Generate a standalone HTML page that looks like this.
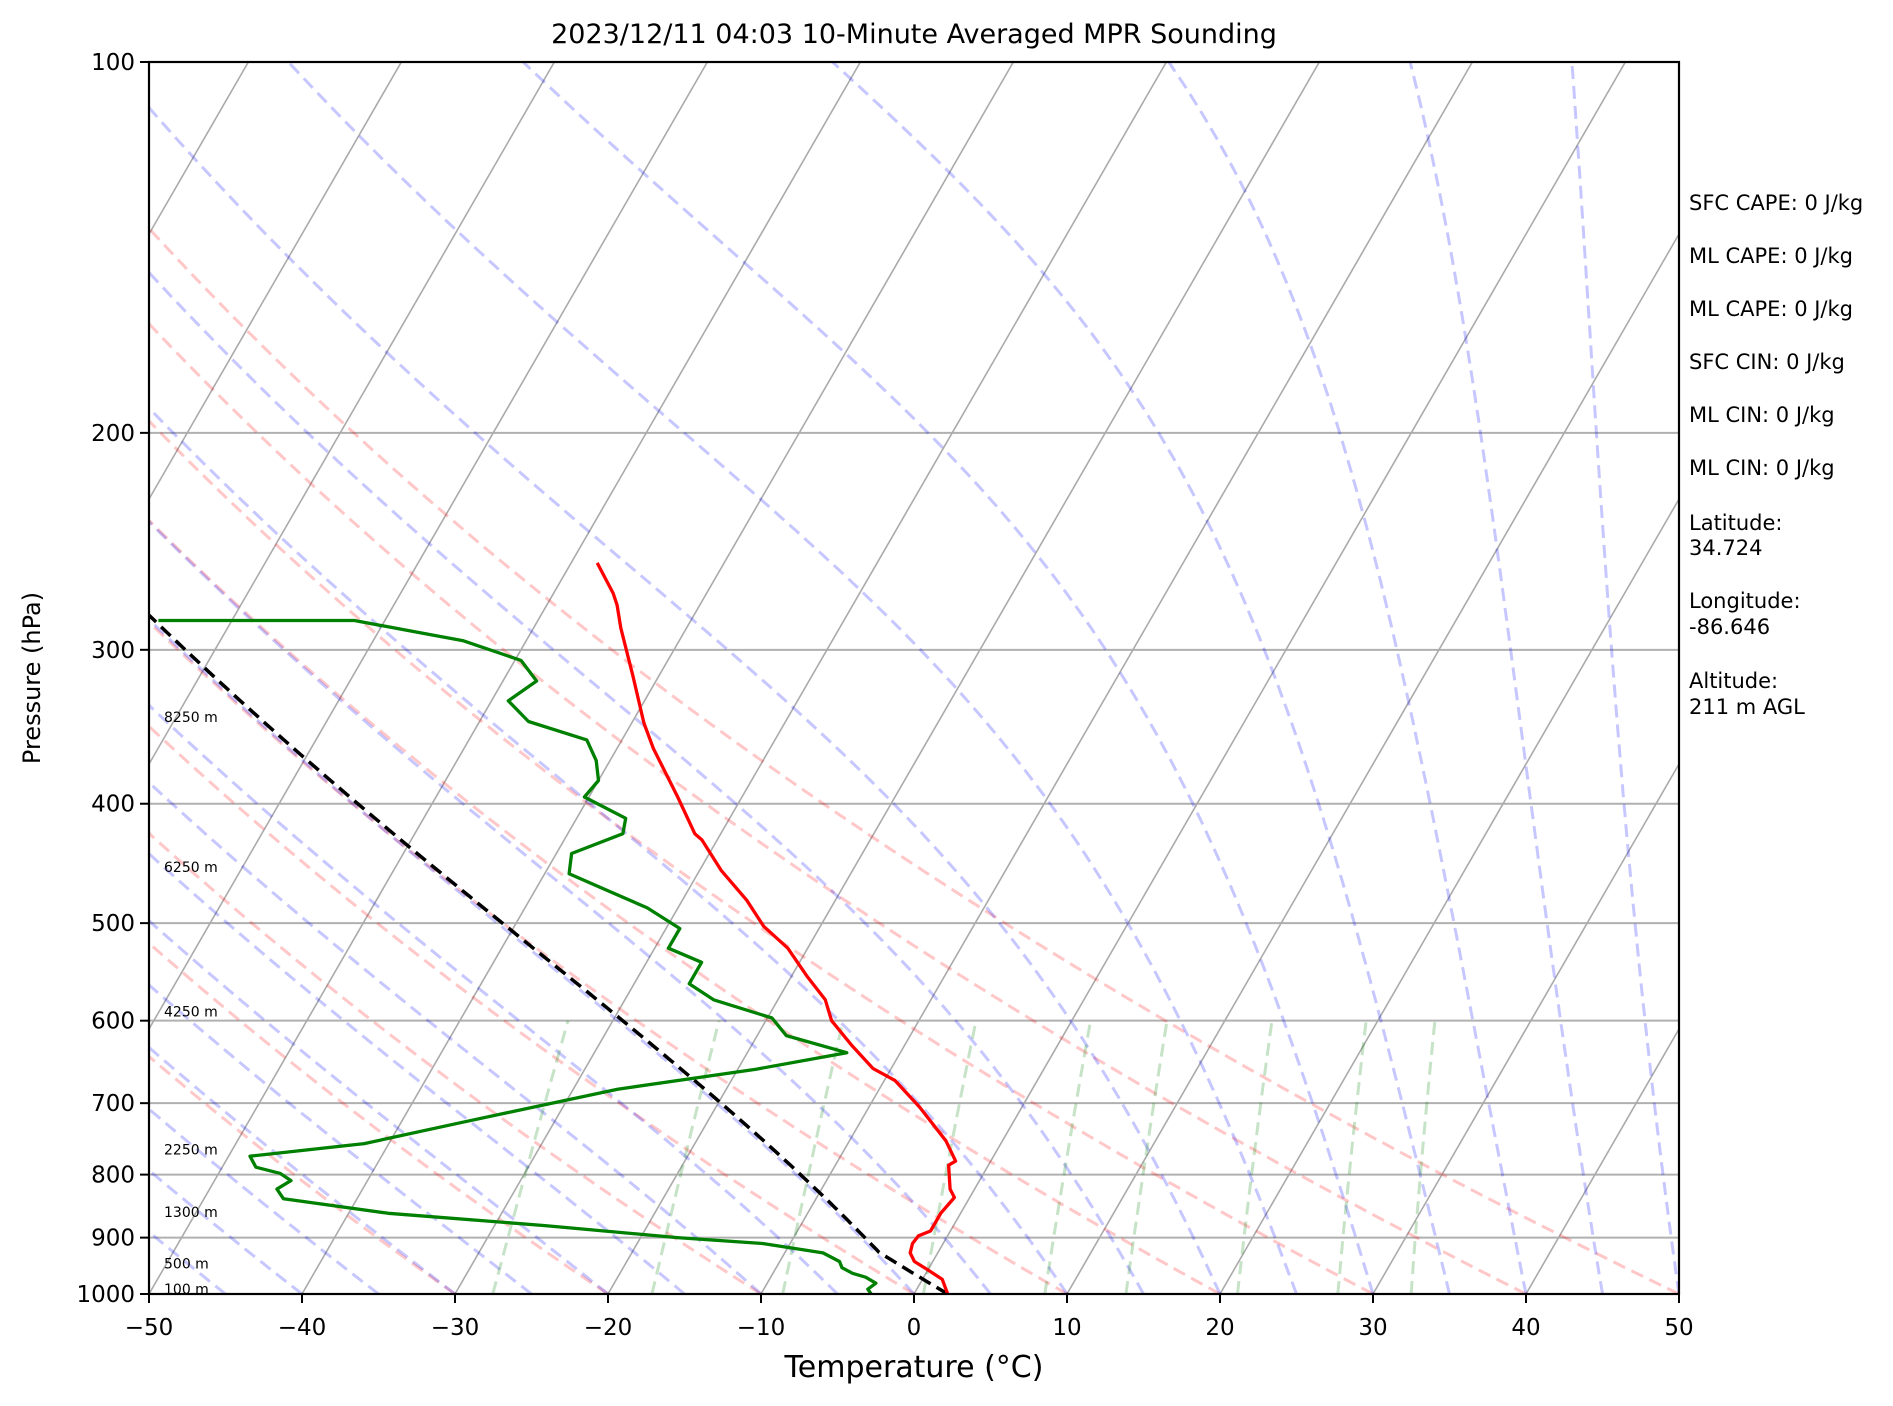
<!DOCTYPE html>
<html><head><meta charset="utf-8">
<style>
html,body{margin:0;padding:0;background:#fff;}
svg{display:block;font-family:"DejaVu Sans","Liberation Sans",sans-serif;}
</style></head>
<body>
<svg id="chart" xmlns="http://www.w3.org/2000/svg" width="1893" height="1406" viewBox="0 0 1893 1406">
<defs><clipPath id="plotclip"><rect x="149" y="62" width="1530" height="1232"/></clipPath></defs>
<rect x="0" y="0" width="1893" height="1406" fill="#fff"/>
<text x="914" y="43" font-size="27" text-anchor="middle">2023/12/11 04:03 10-Minute Averaged MPR Sounding</text>
<g id="plot" clip-path="url(#plotclip)"></g>
<g id="axes"></g>
<text x="914" y="1377" font-size="30" text-anchor="middle">Temperature (°C)</text>
<text x="0" y="0" font-size="24" text-anchor="middle" transform="translate(40,678) rotate(-90)">Pressure (hPa)</text>
<g font-size="21">
<text x="1689" y="210">SFC CAPE: 0 J/kg</text>
<text x="1689" y="263">ML CAPE: 0 J/kg</text>
<text x="1689" y="316">ML CAPE: 0 J/kg</text>
<text x="1689" y="369">SFC CIN: 0 J/kg</text>
<text x="1689" y="422">ML CIN: 0 J/kg</text>
<text x="1689" y="475">ML CIN: 0 J/kg</text>
<text x="1689" y="530">Latitude:</text>
<text x="1689" y="555">34.724</text>
<text x="1689" y="608">Longitude:</text>
<text x="1689" y="634">-86.646</text>
<text x="1689" y="688">Altitude:</text>
<text x="1689" y="714">211 m AGL</text>
</g>
</svg>
<script>
// ---- data ----
const tempP = [1000,991,973,956,941,926,910,897,889,860,835,822,786,780,751,705,671,656,629,600,577,552,524,503,479,453,428,423,395,361,344,315,288,276,270,255];
const tempT = [2.2,1.9,1.3,0.0,-1.2,-1.8,-2.0,-1.9,-1.3,-1.3,-1.0,-1.6,-2.6,-2.3,-3.7,-6.7,-9.3,-11.2,-13.4,-15.7,-16.9,-19.0,-21.3,-23.7,-25.8,-28.6,-31.0,-31.7,-34.2,-37.6,-39.2,-41.7,-44.3,-45.4,-46.1,-48.3];
const dewP = [1000,991,980,969,962,952,941,926,910,900,880,860,837,822,809,798,789,773,755,726,682,657,637,617,597,577,560,538,524,505,486,456,439,423,411,395,383,369,355,343,330,318,306,295,284,284];
const dewT = [-2.8,-3.2,-2.9,-3.8,-4.8,-5.7,-6.1,-7.5,-11.8,-17.6,-26.7,-37.4,-44.8,-45.6,-45.0,-46.0,-47.8,-48.6,-41.6,-36.1,-27.1,-18.8,-13.5,-18.1,-19.7,-24.2,-26.4,-26.4,-29.1,-29.1,-32.0,-38.4,-39.0,-36.4,-36.8,-40.3,-40.0,-40.9,-42.3,-46.8,-48.9,-47.8,-49.6,-54.1,-62.0,-74.8];
const sfcT = 2.2, sfcTd = -2.8, sfcP = 1000;
const xTicks = [-50,-40,-30,-20,-10,0,10,20,30,40,50];
const yTicks = [100,200,300,400,500,600,700,800,900,1000];
const heightLabels = ["8250 m","6250 m","4250 m","2250 m","1300 m","500 m","100 m"];
const heightP = [340,450,590,763,858,945,991];
const dryTheta = [-30,-20,-10,0,10,20,30,40,50];
const moistT0 = [-50,-45,-40,-35,-30,-25,-20,-15,-10,-5,0,5,10,15,20,25,30,35,40,45,50];
const mixRatios = [0.0004,0.001,0.002,0.004,0.007,0.01,0.016,0.024,0.032];

// ---- axes ----
const L=149,R=1679,T=62,B=1294, XS=(R-L)/100, SK=0.5774, H=B-T;
function yP(p){return B - H*Math.log10(1000/p);}
function xT(t,p){return L + (t+50)*XS + (B - yP(p))*SK;}
const NS="http://www.w3.org/2000/svg";
const plot=document.getElementById('plot'), axes=document.getElementById('axes');
function mk(tag,attrs,parent){const e=document.createElementNS(NS,tag);for(const k in attrs)e.setAttribute(k,attrs[k]);parent.appendChild(e);return e;}
function pathFrom(ps,ts){let d='';for(let i=0;i<ps.length;i++){d+=(i?'L':'M')+xT(ts[i],ps[i]).toFixed(1)+','+yP(ps[i]).toFixed(1);}return d;}
const pres=[];for(let p=1000;p>=100;p-=5)pres.push(p);

yTicks.forEach(p=>{
  const l=mk('line',{x1:L,x2:R,y1:yP(p),y2:yP(p),stroke:'#b0b0b0','stroke-width':2},plot);
  
  
});
for(let t=-150;t<=50;t+=10){
  const l=mk('line',{x1:xT(t,1000),y1:B,x2:xT(t,100),y2:T,stroke:'#aaaaaa','stroke-width':1.6},plot);
  
  
}
dryTheta.forEach(th=>{
  const ts=pres.map(p=>(th+273.15)*Math.pow(p/1000,0.2857)-273.15);
  const e=mk('path',{d:pathFrom(pres,ts),fill:'none',stroke:'rgba(255,0,0,0.22)','stroke-width':3,'stroke-dasharray':'13 7'},plot);
  
  
});
function es(tc){return 6.112*Math.exp(17.67*tc/(tc+243.5));}
function moistLapse(tk,p){const eps=0.622,Rd=287.04,Cp=1005.7,Lv=2.501e6;const e=es(tk-273.15);const rs=eps*e/(p-e);
  return (Rd*tk+Lv*rs)/(Cp+Lv*Lv*rs*eps/(Rd*tk*tk))/p;}
function moistProfile(t0,p0,pend){const ps=[],ts=[];let tk=t0+273.15,p=p0;ps.push(p);ts.push(t0);
  while(p>pend){const dp=-1;tk+=moistLapse(tk,p)*dp;p+=dp;if(Math.round(p)%5===0){ps.push(p);ts.push(tk-273.15);}}return [ps,ts];}
moistT0.forEach(t0=>{
  const r=moistProfile(t0,1000,100);
  const e=mk('path',{d:pathFrom(r[0],r[1]),fill:'none',stroke:'rgba(0,0,255,0.22)','stroke-width':3,'stroke-dasharray':'13 7'},plot);
  
  
});
mixRatios.forEach(w=>{
  const ps=[],ts=[];for(let p=1000;p>=600;p-=10){const e=p*w/(0.622+w);const a=Math.log(e/6.112);ps.push(p);ts.push(243.5*a/(17.67-a));}
  const e=mk('path',{d:pathFrom(ps,ts),fill:'none',stroke:'rgba(0,128,0,0.22)','stroke-width':3,'stroke-dasharray':'13 7'},plot);
  
  
});
(function(){
  const tk=sfcT+273.15, tdk=sfcTd+273.15;
  const tl=1/(1/(tdk-56)+Math.log(tk/tdk)/800)+56;
  const pl=sfcP*Math.pow(tl/tk,1/0.2857);
  const ps=[],ts=[];
  for(let p=sfcP;p>pl;p-=5){ps.push(p);ts.push(tk*Math.pow(p/sfcP,0.2857)-273.15);}
  ps.push(pl);ts.push(tl-273.15);
  let t=tl,p=pl;while(p>100){t+=moistLapse(t,p)*-1;p-=1;if(Math.round(p)%5===0){ps.push(p);ts.push(t-273.15);}}
  const e=mk('path',{d:pathFrom(ps,ts),fill:'none',stroke:'#000','stroke-width':3.5,'stroke-dasharray':'13 7'},plot);
  
  
})();
const dl=mk('path',{d:pathFrom(dewP,dewT),fill:'none',stroke:'#008000','stroke-width':3.3,'stroke-linejoin':'round'},plot);


const tl=mk('path',{d:pathFrom(tempP,tempT),fill:'none',stroke:'#ff0000','stroke-width':3.3,'stroke-linejoin':'round'},plot);


heightLabels.forEach((s,i)=>{
  const e=mk('text',{x:164,y:yP(heightP[i])+5,'font-size':14},plot);
  e.textContent=s;
  
  
});
const fr=mk('rect',{x:L,y:T,width:R-L,height:B-T,fill:'none',stroke:'#000','stroke-width':2.2},axes);


xTicks.forEach(t=>{
  const x=L+(t+50)*XS;
  const tk=mk('line',{x1:x,x2:x,y1:B,y2:B+9,stroke:'#000','stroke-width':2},axes);
  
  
  const lb=mk('text',{x:x,y:1335,'font-size':23,'text-anchor':'middle'},axes);
  lb.textContent=(t<0?'\u2212'+(-t):String(t));
  
  
});
yTicks.forEach(p=>{
  const y=yP(p);
  const tk=mk('line',{x1:L-9,x2:L,y1:y,y2:y,stroke:'#000','stroke-width':2},axes);
  
  
  const lb=mk('text',{x:L-14,y:y+8,'font-size':23,'text-anchor':'end'},axes);
  lb.textContent=String(p);
  
  
});
</script>
</body></html>
